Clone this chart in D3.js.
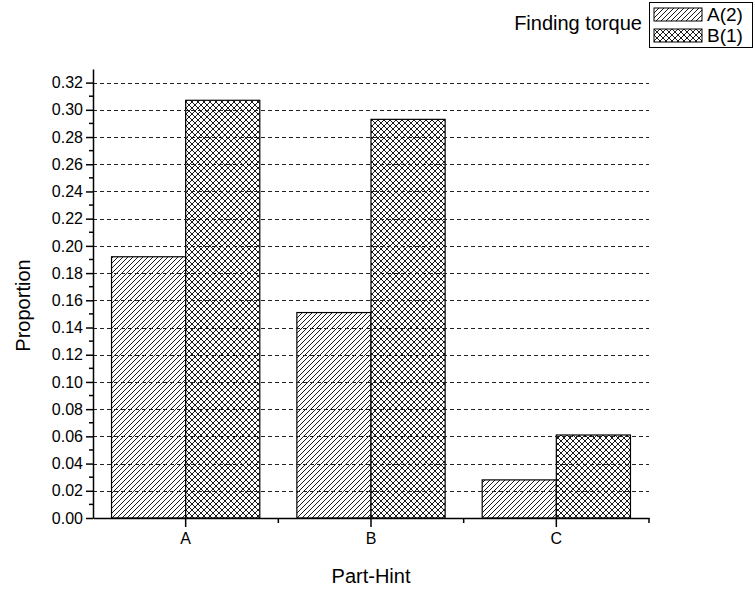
<!DOCTYPE html>
<html>
<head>
<meta charset="utf-8">
<script src="https://cdn.jsdelivr.net/npm/d3@7"></script>
<style>
  body { margin: 0; background: #fff; }
  svg { display: block; font-family: "Liberation Sans", Arial, sans-serif; }
</style>
</head>
<body>
<div id="chart"></div>
<script>
const categories = ["A", "B", "C"];
const seriesNames = ["A(2)", "B(1)"];
const valuesA2 = [0.192, 0.151, 0.028];
const valuesB1 = [0.307, 0.293, 0.061];
const yTicks = [0, 0.02, 0.04, 0.06, 0.08, 0.10, 0.12, 0.14, 0.16, 0.18, 0.20, 0.22, 0.24, 0.26, 0.28, 0.30, 0.32];
const legendTitle = "Finding torque";

const W = 755, H = 589;
const plotL = 93, plotR = 649, plotT = 69, plotB = 518;

const svg = d3.select("#chart").append("svg").attr("width", W).attr("height", H);

// fill patterns: single hatch and cross hatch
const defs = svg.append("defs");
const hatch = defs.append("pattern").attr("id", "hatch")
  .attr("patternUnits", "userSpaceOnUse").attr("width", 5).attr("height", 5);
hatch.append("rect").attr("width", 5).attr("height", 5).attr("fill", "#fff");
hatch.append("path").attr("d", "M-1,1 l2,-2 M0,5 l5,-5 M4,6 l2,-2")
  .attr("stroke", "#000").attr("stroke-width", 0.9);

const cross = defs.append("pattern").attr("id", "cross")
  .attr("patternUnits", "userSpaceOnUse").attr("width", 6).attr("height", 6);
cross.append("rect").attr("width", 6).attr("height", 6).attr("fill", "#fff");
cross.append("path").attr("d", "M-1,1 l2,-2 M0,6 l6,-6 M5,7 l2,-2 M-1,5 l2,2 M0,0 l6,6 M5,-1 l2,2")
  .attr("stroke", "#000").attr("stroke-width", 0.9);

const fills = ["url(#hatch)", "url(#cross)"];
const seriesData = [valuesA2, valuesB1];

const x = d3.scaleBand().domain(categories).range([plotL, plotR]).paddingInner(0).paddingOuter(0);
const xs = d3.scaleBand().domain(seriesNames).range([0, x.bandwidth()]).paddingInner(0).paddingOuter(0.25);
const y = d3.scaleLinear().domain([0, 0.33]).range([plotB, plotT]);

// bars
const barG = svg.append("g");
seriesNames.forEach((s, si) => {
  barG.selectAll(null).data(categories).enter().append("rect")
    .attr("x", (c) => x(c) + xs(s))
    .attr("width", xs.bandwidth())
    .attr("y", (c, i) => y(seriesData[si][i]))
    .attr("height", (c, i) => plotB - y(seriesData[si][i]))
    .attr("fill", fills[si])
    .attr("stroke", "#000").attr("stroke-width", 1.2);
});

// dashed grid
svg.append("g").selectAll("line").data(yTicks.slice(1)).enter().append("line")
  .attr("x1", plotL).attr("x2", plotR)
  .attr("y1", (d) => Math.round(y(d)) + 0.5).attr("y2", (d) => Math.round(y(d)) + 0.5)
  .attr("stroke", "#222").attr("stroke-width", 1).attr("stroke-dasharray", "4,3");

// y axis
const yAxis = svg.append("g").attr("transform", `translate(${plotL},0)`)
  .call(d3.axisLeft(y).tickValues(yTicks).tickFormat(d3.format(".2f")).tickSize(7).tickPadding(3).tickSizeOuter(0));
yAxis.select(".domain").attr("stroke-width", 1.5);
yAxis.selectAll("text").attr("font-size", 16).attr("fill", "#000").attr("font-family", "Liberation Sans, Arial, sans-serif");
yAxis.selectAll("line").attr("stroke-width", 1.5);
const minorY = d3.range(0.01, 0.33, 0.02);
svg.append("g").selectAll("line").data(minorY).enter().append("line")
  .attr("x1", plotL - 4).attr("x2", plotL)
  .attr("y1", (d) => y(d)).attr("y2", (d) => y(d))
  .attr("stroke", "#000").attr("stroke-width", 1.5);

// x axis
const xAxis = svg.append("g").attr("transform", `translate(0,${plotB})`)
  .call(d3.axisBottom(x).tickSize(9).tickPadding(6).tickSizeOuter(0));
xAxis.select(".domain").attr("stroke-width", 1.5);
xAxis.selectAll("line").attr("stroke-width", 1.5);
xAxis.selectAll("text").attr("font-size", 16).attr("fill", "#000").attr("font-family", "Liberation Sans, Arial, sans-serif");
svg.append("g").selectAll("line").data(categories).enter().append("line")
  .attr("x1", (c) => x(c) + x.bandwidth()).attr("x2", (c) => x(c) + x.bandwidth())
  .attr("y1", plotB).attr("y2", plotB + 5)
  .attr("stroke", "#000").attr("stroke-width", 1.5);

// axis titles
svg.append("text").attr("transform", `translate(30,${(plotT + plotB) / 2 + 12}) rotate(-90)`)
  .attr("text-anchor", "middle").attr("font-size", 20).text("Proportion");
svg.append("text").attr("x", (plotL + plotR) / 2).attr("y", 583)
  .attr("text-anchor", "middle").attr("font-size", 20).text("Part-Hint");

// legend
svg.append("text").attr("x", 642).attr("y", 30).attr("text-anchor", "end")
  .attr("font-size", 20).text(legendTitle);
svg.append("rect").attr("x", 649.5).attr("y", 2.5).attr("width", 103).attr("height", 45)
  .attr("fill", "#fff").attr("stroke", "#000").attr("stroke-width", 1);
const leg = svg.append("g").selectAll("g").data(seriesNames).enter().append("g")
  .attr("transform", (d, i) => `translate(654,${8 + i * 21})`);
leg.append("rect").attr("width", 48).attr("height", 13)
  .attr("fill", (d, i) => fills[i]).attr("stroke", "#000").attr("stroke-width", 1);
leg.append("text").attr("x", 53).attr("y", 13).attr("font-size", 19).text((d) => d);
</script>
</body>
</html>
